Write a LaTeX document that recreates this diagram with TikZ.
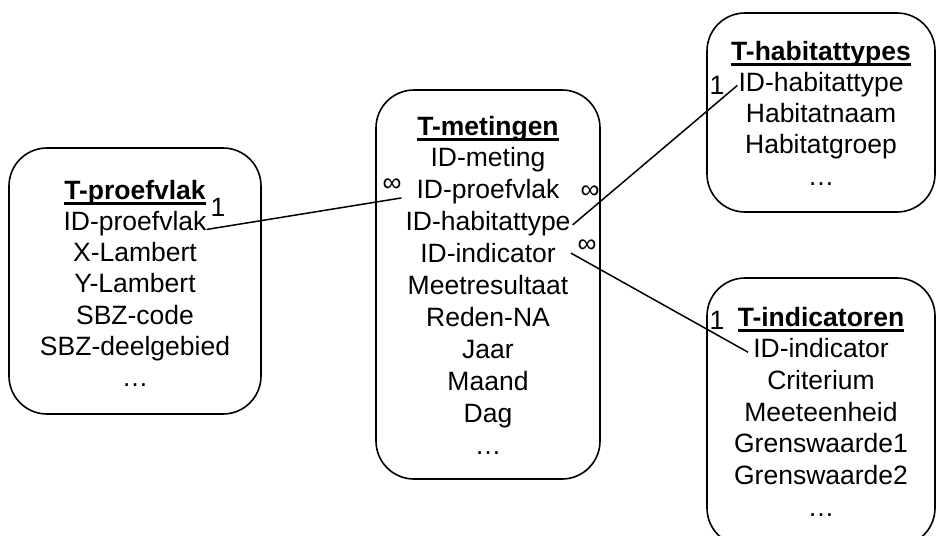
\documentclass[tikz,border=0pt]{standalone}
\usepackage{fontspec}
\setmainfont{Liberation Sans}
\begin{document}
\begin{tikzpicture}[x=1pt,y=-1pt,
  tbl/.style={draw=black, line width=1.6pt, rounded corners=38pt, inner sep=0pt},
  row/.style={anchor=base, inner sep=0pt, font=\fontsize{26.5}{31}\selectfont},
  card/.style={inner sep=0pt, font=\fontsize{26.5}{31}\selectfont},
  link/.style={draw=black, line width=1.5pt}]
\newcommand\ttl[1]{\setbox0\hbox{\bfseries #1}\rlap{\vrule width\wd0 height -3pt depth 5.8pt}\box0}
\useasboundingbox (0,0) rectangle (936,535);
\clip (0,0) rectangle (936,535);

% table frames
\node[tbl, minimum width=252pt, minimum height=266pt] (pvbox) at (135,281) {};
\node[tbl, minimum width=224pt, minimum height=389pt] (mbox) at (488,284.5) {};
\node[tbl, minimum width=228pt, minimum height=199pt] (hbox) at (821,112.5) {};
\node[tbl, minimum width=228pt, minimum height=268pt] (ibox) at (821,412) {};

% T-proefvlak
\foreach \t [count=\i from 0] in {\ttl{T-proefvlak}, ID-proefvlak, X-Lambert, Y-Lambert, SBZ-code, SBZ-deelgebied, \dots}
  \node[row] (p\i) at (135,{199+31.3*\i}) {\t};

% T-metingen
\foreach \t [count=\i from 0] in {\ttl{T-metingen}, ID-meting, ID-proefvlak, ID-habitattype, ID-indicator, Meetresultaat, Reden-NA, Jaar, Maand, Dag, \dots}
  \node[row] (m\i) at (488,{135+31.9*\i}) {\t};

% T-habitattypes
\foreach \t [count=\i from 0] in {\ttl{T-habitattypes}, ID-habitattype, Habitatnaam, Habitatgroep, \dots}
  \node[row] (h\i) at (821,{60+31.3*\i}) {\t};

% T-indicatoren
\foreach \t [count=\i from 0] in {\ttl{T-indicatoren}, ID-indicator, Criterium, Meeteenheid, Grenswaarde1, Grenswaarde2, \dots}
  \node[row] (i\i) at (821,{326+31.7*\i}) {\t};

% relations
\draw[link] ([yshift=-6pt]p1.east) -- ([xshift=-15pt,yshift=-6pt]m2.west);
\draw[link] ([xshift=2pt,yshift=-1pt]m3.east) -- ([xshift=-1pt,yshift=-1pt]h1.west);
\draw[link] ([xshift=15pt,yshift=0pt]m4.east) -- ([xshift=-5pt,yshift=-4pt]i1.west);

% cardinalities
\node[card] (c1a) at (218,207) {1};
\node[card] (c1b) at (392,185) {∞};
\node[card] (c2a) at (590,192) {∞};
\node[card] (c2b) at (717,85) {1};
\node[card] (c3a) at (587,246) {∞};
\node[card] (c3b) at (717,320) {1};
\end{tikzpicture}
\end{document}
